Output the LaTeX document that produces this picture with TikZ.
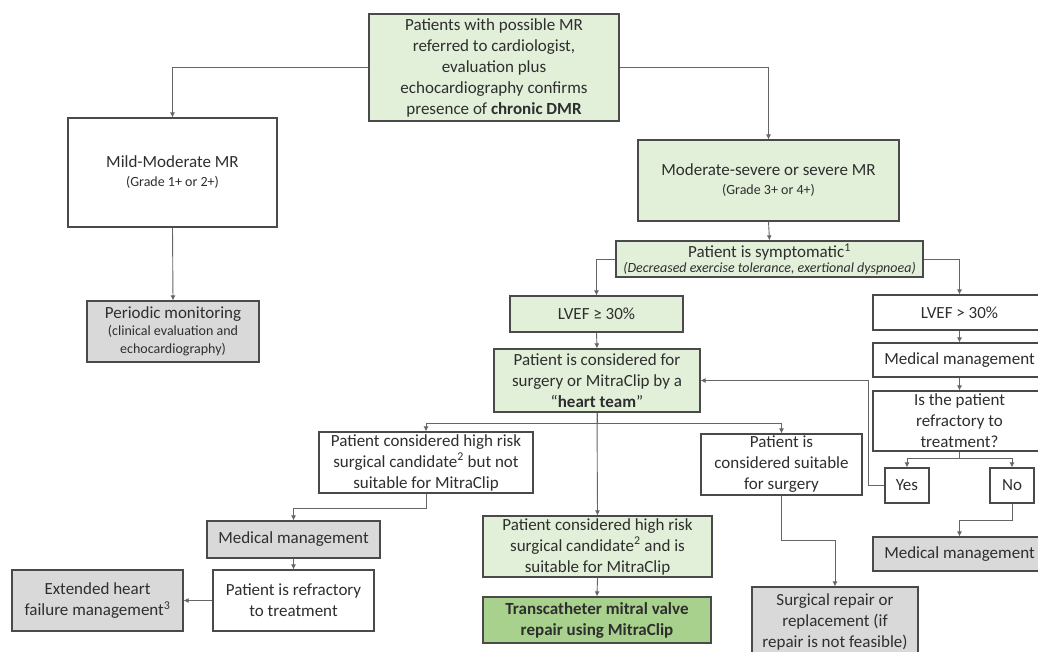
\documentclass[tikz,border=0pt]{standalone}
\usepackage{fontspec}
\setmainfont{Carlito}
\usepackage{tikz}
\usetikzlibrary{arrows.meta}
\definecolor{mgreen}{HTML}{E2EFD9}
\definecolor{dgreen}{HTML}{A9D18E}
\definecolor{mgray}{HTML}{D9D9D9}
\definecolor{mline}{HTML}{4A4A4A}
\definecolor{mtext}{HTML}{2E2E2E}
\tikzset{box/.style = {draw = mline, line width = 1.2pt, fill = white, inner sep = 0,
    align = center, text = mtext, font = \fontsize{17}{21}\selectfont}}
\tikzset{gbox/.style = {box, fill = mgreen}}
\tikzset{grbox/.style = {box, fill = mgray}}
\tikzset{arr/.style = {draw = mline!85, line width = 0.9pt, -{Latex[length = 5pt, width = 5pt]}}}
\newcommand{\sm}[1]{{\fontsize{14}{17}\selectfont #1}}

\begin{document}
\begin{tikzpicture}[x = 1pt, y = -1pt]
      \useasboundingbox (0, 0) rectangle (1038, 651);

      % top and first split
      \node [gbox, minimum width = 250, minimum height = 107] (top) at (494, 67.5)
        {Patients with possible MR\\ referred to cardiologist,\\ evaluation plus\\
         echocardiography confirms\\ presence of \textbf{chronic DMR}};
      \node [box, minimum width = 209, minimum height = 109] (mild) at (172.5, 172.5)
        {Mild-Moderate MR\\[-2pt] \sm{(Grade 1+ or 2+)}};
      \node [grbox, minimum width = 172, minimum height = 61] (per) at (173, 331.5)
        {Periodic monitoring\\[-4pt] \sm{(clinical evaluation and}\\[-3pt] \sm{echocardiography)}};
      \node [gbox, minimum width = 261, minimum height = 81] (mod) at (768.5, 180.5)
        {Moderate-severe or severe MR\\[-2pt] \sm{(Grade 3+ or 4+)}};
      \node [gbox, minimum width = 307, minimum height = 36] (sym) at (769.5, 259)
        {Patient is symptomatic\textsuperscript{1}\\[-6pt]
         \sm{\itshape (Decreased exercise tolerance, exertional dyspnoea)}};

      % LVEF branches
      \node [gbox, minimum width = 173, minimum height = 36] (lvefa) at (596.5, 314) {LVEF ≥ 30\%};
      \node [box, minimum width = 173, minimum height = 35] (lvefb) at (959.5, 312.5) {LVEF > 30\%};
      \node [gbox, minimum width = 206, minimum height = 63] (heart) at (597, 380.5)
        {Patient is considered for\\ surgery or MitraClip by a\\ “\textbf{heart team}”};
      \node [box, minimum width = 173, minimum height = 34] (medb) at (959.5, 360) {Medical management};
      \node [box, minimum width = 173, minimum height = 60] (ask) at (959.5, 421)
        {Is the patient\\ refractory to\\ treatment?};
      \node [box, minimum width = 44, minimum height = 35] (yes) at (907, 485.5) {Yes};
      \node [box, minimum width = 44, minimum height = 35] (no) at (1012, 485.5) {No};
      \node [grbox, minimum width = 173, minimum height = 34] (medc) at (959.5, 554) {Medical management};

      % heart team outcomes
      \node [box, minimum width = 214, minimum height = 61] (nots) at (426, 462.5)
        {Patient considered high risk\\ surgical candidate\textsuperscript{2} but not\\ suitable for MitraClip};
      \node [box, minimum width = 161, minimum height = 61] (surg) at (781.5, 464.5)
        {Patient is\\ considered suitable\\ for surgery};
      \node [gbox, minimum width = 229, minimum height = 61] (hr) at (597.5, 546.5)
        {Patient considered high risk\\ surgical candidate\textsuperscript{2} and is\\ suitable for MitraClip};
      \node [box, fill = dgreen, minimum width = 228, minimum height = 46] (tmvr) at (597, 620)
        {\textbf{Transcatheter mitral valve}\\ \textbf{repair using MitraClip}};
      \node [grbox, minimum width = 173, minimum height = 37] (meda) at (293.5, 539.5) {Medical management};
      \node [box, minimum width = 161, minimum height = 61] (refr) at (293.5, 600.5)
        {Patient is refractory\\ to treatment};
      \node [grbox, minimum width = 171, minimum height = 61] (ext) at (97.5, 600.5)
        {Extended heart\\ failure management\textsuperscript{3}};
      \node [grbox, minimum width = 166, minimum height = 69] (srep) at (835, 621.5)
        {Surgical repair or\\ replacement (if\\ repair is not feasible)};

      \draw [arr] (top.west) -| (mild.north);
      \draw [arr] (top.east) -| (mod.north);
      \draw [arr] (mild.south) -- (per.north);
      \draw [arr] (mod.south) -- (sym.north);
      \draw [arr] (sym.west) -| (lvefa.north);
      \draw [arr] (sym.east) -| (lvefb.north);
      \draw [arr] (lvefa.south) -- (heart.north);
      \draw [arr] (lvefb.south) -- (medb.north);
      \draw [arr] (medb.south) -- (ask.north);
      \draw [arr] (ask.south) -- ++(0, 7) -| (yes.north);
      \draw [arr] (ask.south) -- ++(0, 7) -| (no.north);
      \draw [arr] (yes.west) -- ++(-16, 0) |- (heart.east);
      \draw [arr] (no.south) -- ++(0, 17) -| (medc.north);
      \draw [arr] (heart.south) -- ++(0, 11) -| (nots.north);
      \draw [arr] (heart.south) -- ++(0, 11) -| (surg.north);
      \draw [arr] (heart.south) -- (hr.north);
      \draw [arr] (hr.south) -- (tmvr.north);
      \draw [arr] (nots.south) -- ++(0, 15) -| (meda.north);
      \draw [arr] (meda.south) -- (refr.north);
      \draw [arr] (refr.west) -- (ext.east);
      \draw [arr] (surg.south) -- ++(0, 45) -| (srep.north);
    \end{tikzpicture}
\end{document}
